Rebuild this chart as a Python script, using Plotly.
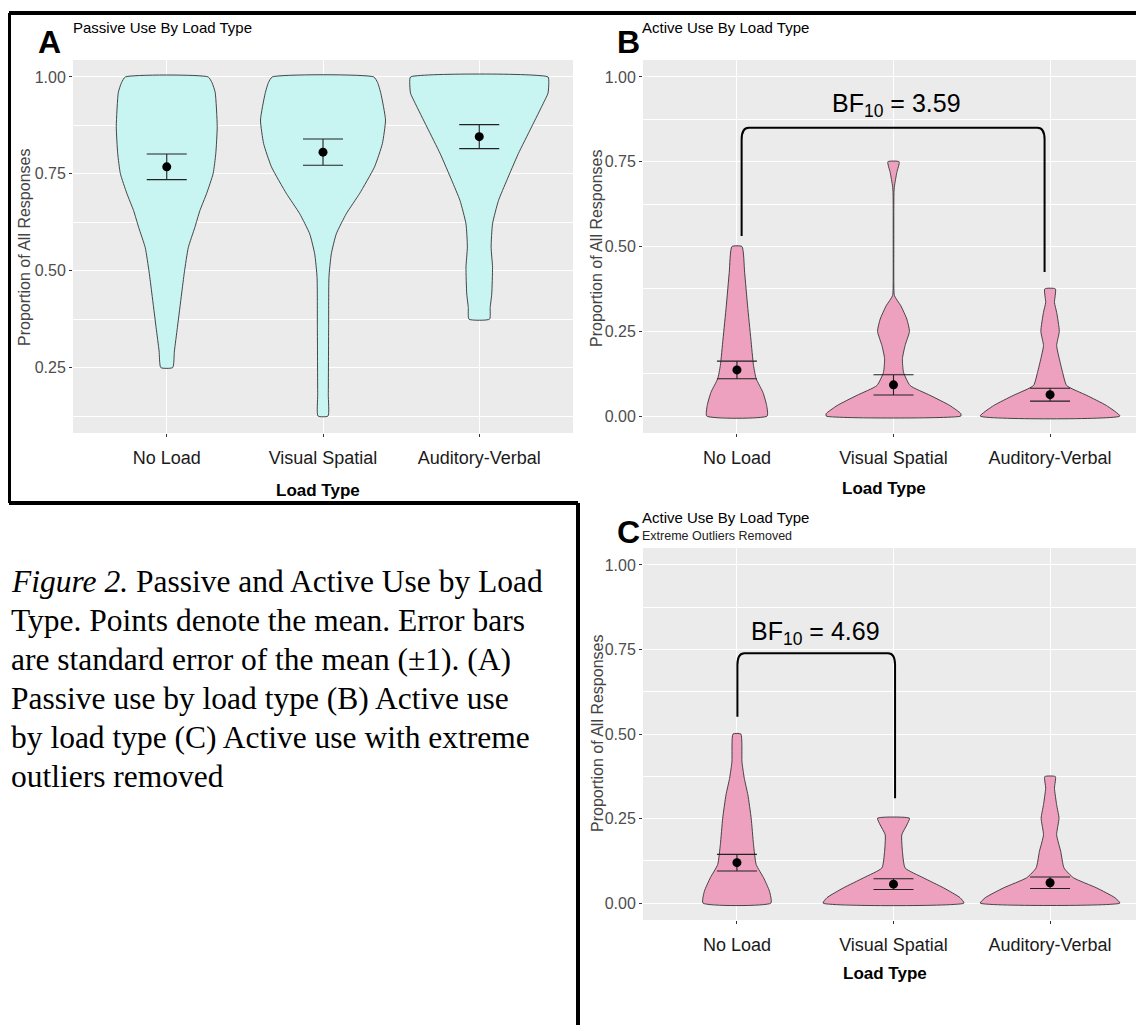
import plotly.graph_objects as go

# ---------------- data ----------------
categories = ["No Load", "Visual Spatial", "Auditory-Verbal"]
cat_pos = [0, 1, 2]

# Violin outlines: proportion levels and half-widths (category units)
passive_nl_levels = [0.25, 0.293, 0.353, 0.44, 0.497, 0.56, 0.612, 0.655, 0.699, 0.751, 0.803, 0.872, 0.96, 0.985, 1.0]
passive_nl_halfw = [0.038, 0.049, 0.068, 0.095, 0.113, 0.138, 0.18, 0.212, 0.255, 0.297, 0.314, 0.323, 0.31, 0.29, 0.265]
passive_vs_levels = [0.125, 0.181, 0.354, 0.483, 0.543, 0.595, 0.647, 0.699, 0.768, 0.828, 0.889, 0.958, 0.985, 1.0]
passive_vs_halfw = [0.032, 0.034, 0.036, 0.038, 0.053, 0.085, 0.149, 0.234, 0.33, 0.38, 0.40, 0.37, 0.35, 0.325]
passive_av_levels = [0.375, 0.405, 0.44, 0.509, 0.561, 0.621, 0.681, 0.733, 0.802, 0.871, 0.932, 0.958, 0.985, 1.0]
passive_av_halfw = [0.066, 0.07, 0.08, 0.085, 0.076, 0.085, 0.123, 0.176, 0.25, 0.335, 0.41, 0.44, 0.445, 0.44]

active_nl_levels = [0.0, 0.031, 0.07, 0.11, 0.149, 0.227, 0.325, 0.424, 0.5]
active_nl_halfw = [0.193, 0.19, 0.166, 0.123, 0.106, 0.089, 0.068, 0.049, 0.032]
active_vs_levels = [0.0, 0.007, 0.031, 0.061, 0.09, 0.129, 0.169, 0.208, 0.25, 0.286, 0.325, 0.355, 0.4, 0.5, 0.6, 0.659, 0.678, 0.718, 0.75]
active_vs_halfw = [0.43, 0.43, 0.36, 0.234, 0.106, 0.064, 0.057, 0.074, 0.102, 0.085, 0.047, 0.006, 0.002, 0.002, 0.002, 0.003, 0.006, 0.021, 0.036]
active_av_levels = [0.0, 0.031, 0.061, 0.09, 0.129, 0.169, 0.208, 0.25, 0.306, 0.335, 0.375]
active_av_halfw = [0.446, 0.36, 0.234, 0.106, 0.08, 0.059, 0.042, 0.059, 0.042, 0.028, 0.034]

trimmed_nl_levels = [0.0, 0.035, 0.075, 0.114, 0.173, 0.251, 0.32, 0.369, 0.418, 0.5]
trimmed_nl_halfw = [0.217, 0.208, 0.17, 0.123, 0.106, 0.091, 0.07, 0.047, 0.032, 0.025]
trimmed_vs_levels = [0.0, 0.016, 0.045, 0.075, 0.104, 0.153, 0.202, 0.231, 0.251]
trimmed_vs_halfw = [0.45, 0.425, 0.32, 0.19, 0.074, 0.057, 0.053, 0.085, 0.102]
trimmed_av_levels = [0.0, 0.016, 0.045, 0.075, 0.104, 0.153, 0.202, 0.251, 0.291, 0.34, 0.374]
trimmed_av_halfw = [0.446, 0.414, 0.297, 0.149, 0.089, 0.068, 0.042, 0.057, 0.042, 0.028, 0.034]

# Means and standard errors
passive_means = [0.768, 0.806, 0.846]
passive_se = [0.033, 0.034, 0.031]
active_means = [0.136, 0.092, 0.063]
active_se = [0.026, 0.030, 0.019]
trimmed_means = [0.1195, 0.056, 0.060]
trimmed_se = [0.0245, 0.016, 0.017]

# Bayes-factor comparisons: (left x, right x, bracket top, left foot, right foot, label)
bf_active = [0.03, 1.965, 0.85, 0.531, 0.425, "3.59"]
bf_trimmed = [0.003, 1.01, 0.739, 0.551, 0.31, "4.69"]

caption_lines = [
    "<i>Figure 2.</i> Passive and Active Use by Load",
    "Type. Points denote the mean. Error bars",
    "are standard error of the mean (\u00b11). (A)",
    "Passive use by load type (B) Active use",
    "by load type (C) Active use with extreme",
    "outliers removed",
]

# ---------------- styling / layout helpers ----------------
PAGE_W, PAGE_H = 1144, 1025
OFF = 8  # default page margin of the html body
W, H = PAGE_W - OFF, PAGE_H - OFF
SANS = "Liberation Sans, Arial, sans-serif"
SERIF = "Liberation Serif, Times New Roman, serif"
CYAN = "#c8f4f2"
PINK = "#eda1be"
OUTLINE = "#333333"


def px_x(p):
    return (p - OFF) / W


def px_y(p):
    return 1 - (p - OFF) / H


fig = go.Figure()


def add_violin(center, levels, halfw, color, xa, ya):
    xs = [center + w for w in halfw] + [center - w for w in reversed(halfw)]
    ys = list(levels) + list(reversed(levels))
    fig.add_trace(go.Scatter(
        x=xs + [xs[0]], y=ys + [ys[0]], mode="lines", fill="toself",
        fillcolor=color, line=dict(color=OUTLINE, width=0.9, shape="spline", smoothing=0.5),
        xaxis=xa, yaxis=ya, hoverinfo="skip", showlegend=False))


def add_means(means, se, xa, ya):
    fig.add_trace(go.Scatter(
        x=cat_pos, y=means, mode="markers",
        marker=dict(color="black", size=9),
        error_y=dict(type="data", array=se, color="#222222", thickness=1.1, width=20),
        xaxis=xa, yaxis=ya, hoverinfo="skip", showlegend=False))


panelA = [(passive_nl_levels, passive_nl_halfw), (passive_vs_levels, passive_vs_halfw), (passive_av_levels, passive_av_halfw)]
panelB = [(active_nl_levels, active_nl_halfw), (active_vs_levels, active_vs_halfw), (active_av_levels, active_av_halfw)]
panelC = [(trimmed_nl_levels, trimmed_nl_halfw), (trimmed_vs_levels, trimmed_vs_halfw), (trimmed_av_levels, trimmed_av_halfw)]

for c, (lv, hw) in zip(cat_pos, panelA):
    add_violin(c, lv, hw, CYAN, "x", "y")
add_means(passive_means, passive_se, "x", "y")
for c, (lv, hw) in zip(cat_pos, panelB):
    add_violin(c, lv, hw, PINK, "x2", "y2")
add_means(active_means, active_se, "x2", "y2")
for c, (lv, hw) in zip(cat_pos, panelC):
    add_violin(c, lv, hw, PINK, "x3", "y3")
add_means(trimmed_means, trimmed_se, "x3", "y3")


def xaxis_cfg(domain, anchor):
    return dict(domain=domain, anchor=anchor, range=[-0.6, 2.6], tickmode="array",
                tickvals=cat_pos, ticktext=categories, showgrid=True, gridcolor="white",
                gridwidth=1.2, zeroline=False, showline=False, ticks="outside", ticklen=3,
                tickcolor="#333333", tickwidth=1,
                tickfont=dict(family=SANS, size=18, color="#1a1a1a"),
                ticklabelstandoff=5, fixedrange=True)


def yaxis_cfg(domain, anchor, rng):
    return dict(domain=domain, anchor=anchor, range=rng, tickmode="linear", tick0=0, dtick=0.25,
                tickformat=".2f", showgrid=True, gridcolor="white", gridwidth=1.2,
                minor=dict(tick0=0, dtick=0.125, showgrid=True, gridcolor="white", gridwidth=0.6),
                zeroline=False, showline=False, ticks="outside", ticklen=3,
                tickcolor="#333333", tickwidth=1,
                tickfont=dict(family=SANS, size=16, color="#4d4d4d"), fixedrange=True)


fig.update_layout(
    width=W, height=H, margin=dict(l=0, r=0, t=0, b=0),
    paper_bgcolor="white", plot_bgcolor="#ebebeb", showlegend=False,
    font=dict(family=SANS),
    xaxis=xaxis_cfg([px_x(73), px_x(573)], "y"),
    yaxis=yaxis_cfg([px_y(433), px_y(60)], "x", [0.08125, 1.04375]),
    xaxis2=xaxis_cfg([px_x(643), 1.0], "y2"),
    yaxis2=yaxis_cfg([px_y(433), px_y(60)], "x2", [-0.05, 1.05]),
    xaxis3=xaxis_cfg([px_x(643), 1.0], "y3"),
    yaxis3=yaxis_cfg([px_y(920), px_y(548)], "x3", [-0.05, 1.05]),
)

shapes = []


def bracket(spec, xref, yref):
    x1, x2, ytop, yb1, yb2, _ = spec
    rx, ry = 0.045, 0.035
    path = (f"M {x1},{yb1} L {x1},{ytop - ry} Q {x1},{ytop} {x1 + rx},{ytop} "
            f"L {x2 - rx},{ytop} Q {x2},{ytop} {x2},{ytop - ry} L {x2},{yb2}")
    return dict(type="path", path=path, xref=xref, yref=yref,
                line=dict(color="black", width=2))


shapes.append(bracket(bf_active, "x2", "y2"))
shapes.append(bracket(bf_trimmed, "x3", "y3"))

# black frame lines of the composed figure
frame = [((9, 13), (1144, 13)), ((9, 13), (9, 503)), ((9, 503), (578, 503)), ((578, 503), (578, 1025))]
for (a, b) in frame:
    shapes.append(dict(type="line", xref="paper", yref="paper",
                       x0=px_x(a[0]), y0=px_y(a[1]), x1=px_x(b[0]), y1=px_y(b[1]),
                       line=dict(color="black", width=4)))
fig.update_layout(shapes=shapes)

ann = []


def text(x, y, s, size, color="black", bold=False, xanchor="left", angle=0, family=SANS):
    ann.append(dict(x=px_x(x), y=px_y(y), xref="paper", yref="paper", text=(f"<b>{s}</b>" if bold else s),
                    showarrow=False, xanchor=xanchor, yanchor="middle", textangle=angle,
                    font=dict(family=family, size=size, color=color)))


# panel letters and titles
text(49, 42, "A", 32, bold=True, xanchor="center")
text(71, 28, "Passive Use By Load Type", 15)
text(628, 42, "B", 32, bold=True, xanchor="center")
text(640, 28, "Active Use By Load Type", 15)
text(628, 532, "C", 32, bold=True, xanchor="center")
text(640, 517, "Active Use By Load Type", 15)
text(640, 536, "Extreme Outliers Removed", 12.5, color="#222222")

# axis titles
for (x, y) in [(24, 248), (597, 249), (597, 734)]:
    text(x, y, "Proportion of All Responses", 16, color="#444444", xanchor="center", angle=-90)
for (x, y) in [(318, 491), (884, 489), (885, 973)]:
    text(x, y, "Load Type", 17, bold=True, xanchor="center")

# Bayes factor labels
for spec, xr, yr, xc, yc in [(bf_active, "x2", "y2", 1.02, 0.918), (bf_trimmed, "x3", "y3", 0.503, 0.80)]:
    ann.append(dict(x=xc, y=yc, xref=xr, yref=yr, text=f"BF<sub>10</sub> = {spec[5]}",
                    showarrow=False, xanchor="center", yanchor="middle",
                    font=dict(family=SANS, size=25, color="black")))

# caption
for i, line in enumerate(caption_lines):
    text(8.5, 581 + i * 39, line, 31.5, family=SERIF)

fig.update_layout(annotations=ann)
fig.write_html("out.html")
